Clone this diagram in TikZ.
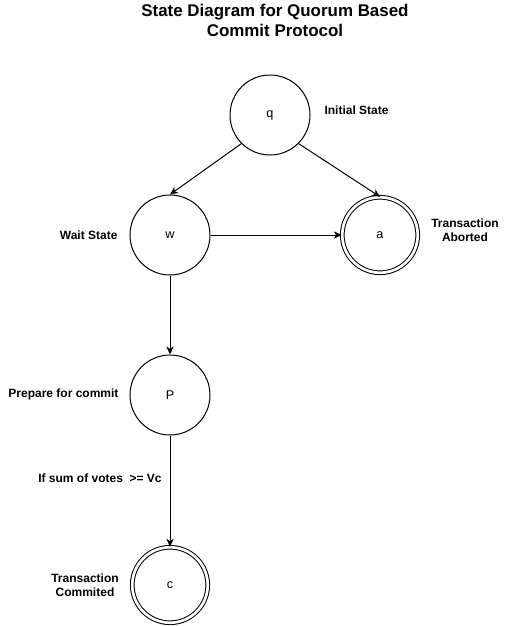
\documentclass[tikz,border=0pt]{standalone}
\usepackage{fontspec}
\setmainfont{Liberation Sans}
\usetikzlibrary{arrows.meta}

\tikzset{
  state/.style={draw, circle, minimum size=60pt, inner sep=0pt, font=\fontsize{9.5}{10}\selectfont},
  final/.style={state, double, double distance=2pt, minimum size=56.6pt},
  lbl/.style={inner sep=0.75pt, align=center, font=\bfseries\fontsize{9}{10.5}\selectfont},
  trans/.style={-{Stealth[length=6pt,width=5.5pt,inset=1.8pt]}}
}

\begin{document}
\begin{tikzpicture}[x=0.75pt,y=0.75pt,yscale=-1,xscale=1,line width=0.75pt]
\useasboundingbox (0,0) rectangle (510,626);

% Text Node
\draw (275,20) node [inner sep=0.75pt, align=center, font=\bfseries\fontsize{12.7}{15}\selectfont] (title) {State Diagram for Quorum Based\\Commit Protocol};

%Shape: Circle [id:q]
\node [state] (q) at (270,115) {q};
%Shape: Circle [id:w]
\node [state] (w) at (170,235) {w};
%Shape: Double Circle [id:a]
\node [final] (a) at (380,235) {a};
%Shape: Circle [id:P]
\node [state] (P) at (170,395) {P};
%Shape: Double Circle [id:c]
\node [final] (c) at (170,585) {c};

%Straight Lines
\draw [trans] (q.south west) -- (w.north);
%Straight Lines
\draw [trans] (q.south east) -- (a.north);
%Straight Lines
\draw [trans] (w) -- (a);
%Straight Lines
\draw [trans] (w) -- (P);
%Straight Lines
\draw [trans] (P) -- (c);

% Text Node
\draw (323,110) node [anchor=west][lbl] (initlbl) {Initial State};
% Text Node
\draw (119,235) node [anchor=east][lbl] (waitlbl) {Wait State};
% Text Node
\draw (465,230) node [lbl] (abortlbl) {Transaction\\Aborted};
% Text Node
\draw (120,394) node [anchor=east][lbl] (preplbl) {Prepare for commit};
% Text Node
\draw (100,478) node [lbl] (votelbl) {If sum of votes\ \ >= Vc};
% Text Node
\draw (85,585) node [lbl] (commitlbl) {Transaction\\Commited};

\end{tikzpicture}
\end{document}
